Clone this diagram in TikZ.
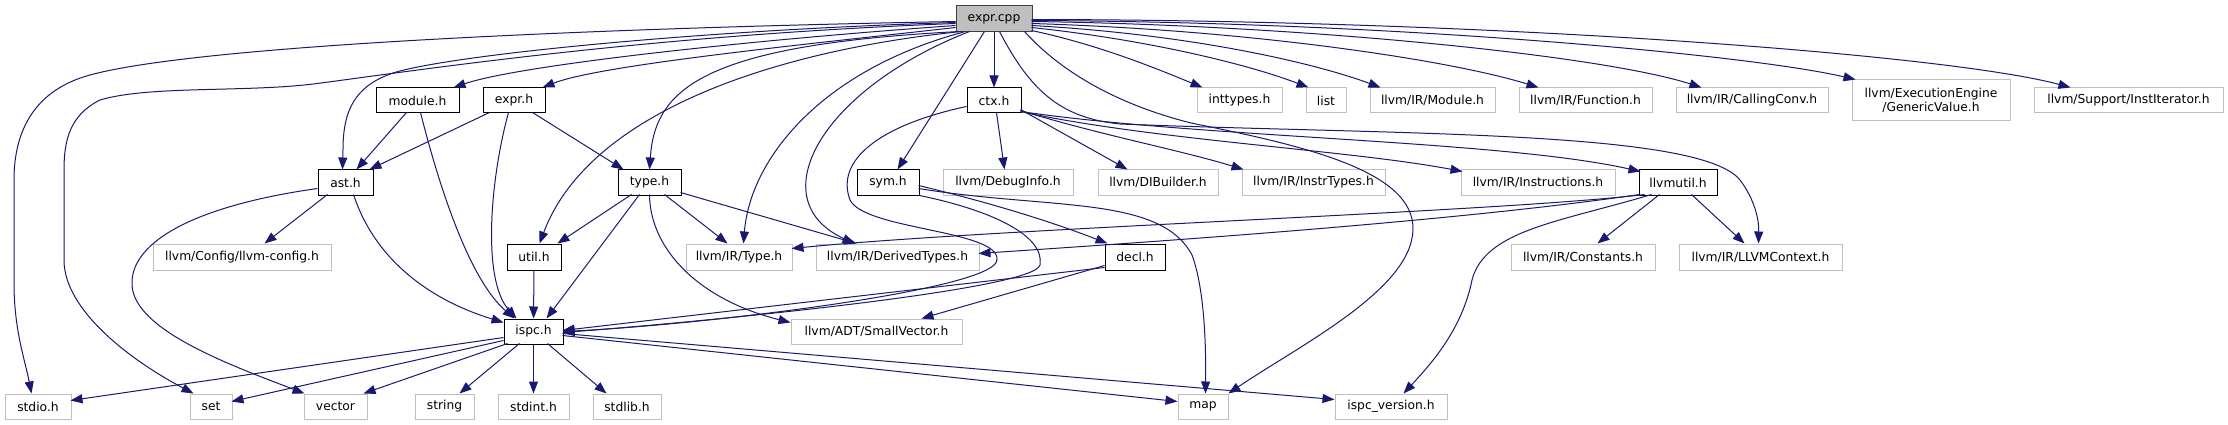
\documentclass[tikz,border=0pt]{standalone}
\usepackage{fontspec}
\setmainfont{DejaVu Sans}
\usetikzlibrary{arrows.meta}
\definecolor{edgeblue}{HTML}{191970}
\definecolor{extgray}{HTML}{BFBFBF}
\definecolor{rootborder}{HTML}{404040}
\tikzset{
  base/.style={rectangle, inner sep=0pt, align=center, text=black,
    font=\fontsize{12.3}{14}\selectfont, line width=1pt},
  docbox/.style={base, draw=black, fill=white},
  extbox/.style={base, draw=extgray, fill=white},
  rootbox/.style={base, draw=rootborder, fill=extgray},
  sz/.style 2 args={minimum width=#1pt, minimum height=#2pt},
  edge/.style={draw=edgeblue, line width=1pt, -{Triangle[length=12pt,width=9pt]}}
}
\begin{document}
\begin{tikzpicture}[x=1pt,y=-1pt]
\useasboundingbox[fill=white] (0,0) rectangle (2228,425);
% rank 0
\node[rootbox, sz={76}{26}] (ecpp) at (994,19) {expr.cpp};
% rank 1
\node[docbox, sz={83}{25}] (module) at (417.5,100.5) {module.h};
\node[docbox, sz={62}{25}] (exprh) at (514,100.5) {expr.h};
\node[docbox, sz={54}{25}] (ctx) at (994,100.5) {ctx.h};
\node[extbox, sz={85}{25}] (inttypes) at (1239.5,100.5) {inttypes.h};
\node[extbox, sz={40}{25}] (list) at (1326,100.5) {list};
\node[extbox, sz={125}{25}] (irmodule) at (1432.5,100.5) {llvm/IR/Module.h};
\node[extbox, sz={133}{25}] (irfunction) at (1585.5,100.5) {llvm/IR/Function.h};
\node[extbox, sz={152}{25}] (callconv) at (1752,100.5) {llvm/IR/CallingConv.h};
\node[extbox, sz={158}{41}] (genval) at (1931,100.5) {llvm/ExecutionEngine\\/GenericValue.h};
\node[extbox, sz={189}{25}] (instit) at (2128.5,100.5) {llvm/Support/InstIterator.h};
% rank 2
\node[docbox, sz={55}{25}] (ast) at (345.5,182.5) {ast.h};
\node[docbox, sz={63}{25}] (type) at (649.5,182.5) {type.h};
\node[docbox, sz={62}{25}] (sym) at (888,182.5) {sym.h};
\node[extbox, sz={130}{25}] (debuginfo) at (1008,182.5) {llvm/DebugInfo.h};
\node[extbox, sz={120}{25}] (dibuilder) at (1158,182.5) {llvm/DIBuilder.h};
\node[extbox, sz={143}{25}] (instrtypes) at (1313.5,182.5) {llvm/IR/InstrTypes.h};
\node[extbox, sz={154}{25}] (instructions) at (1538,182.5) {llvm/IR/Instructions.h};
\node[docbox, sz={78}{25}] (llvmutil) at (1678,182.5) {llvmutil.h};
% rank 3
\node[extbox, sz={178}{26}] (llvmconfig) at (242,257) {llvm/Config/llvm-config.h};
\node[docbox, sz={54}{26}] (util) at (534,257) {util.h};
\node[extbox, sz={106}{26}] (irtype) at (739,257) {llvm/IR/Type.h};
\node[extbox, sz={163}{26}] (derived) at (897.5,257) {llvm/IR/DerivedTypes.h};
\node[docbox, sz={60}{26}] (decl) at (1135,257) {decl.h};
\node[extbox, sz={144}{26}] (constants) at (1583,257) {llvm/IR/Constants.h};
\node[extbox, sz={163}{26}] (llvmctx) at (1760.5,257) {llvm/IR/LLVMContext.h};
% rank 4
\node[docbox, sz={59}{25}] (ispc) at (533.5,331.5) {ispc.h};
\node[extbox, sz={171}{25}] (smallvec) at (876.5,331.5) {llvm/ADT/SmallVector.h};
% rank 5
\node[extbox, sz={66}{25}] (stdio) at (38,406.5) {stdio.h};
\node[extbox, sz={42}{25}] (set) at (211,406.5) {set};
\node[extbox, sz={63}{25}] (vector) at (335.5,406.5) {vector};
\node[extbox, sz={59}{25}] (string) at (444.5,406.5) {string};
\node[extbox, sz={71}{25}] (stdint) at (533.5,406.5) {stdint.h};
\node[extbox, sz={68}{25}] (stdlib) at (627,406.5) {stdlib.h};
\node[extbox, sz={50}{25}] (map) at (1203,406.5) {map};
\node[extbox, sz={112}{25}] (ispcver) at (1391,406.5) {ispc\_version.h};

% ---- edges from expr.cpp (left side)
\draw[edge] ([shift={(0,16)}]ecpp.north west) .. controls (600,28) and (200,45) .. (90,75) .. controls (35,90) and (14,130) .. (14,180) -- (14,283) .. controls (14,330) and (25,360) .. ([shift={(27,0)}]stdio.north west);
\draw[edge] ([shift={(0,18)}]ecpp.north west) .. controls (650,35) and (420,70) .. (321,83) .. controls (250,93) and (150,85) .. (100,100) .. controls (70,115) and (64,140) .. (64,170) -- (64,260) .. controls (64,310) and (130,360) .. ([shift={(4,0)}]set.north west);
\draw[edge] ([shift={(0,17)}]ecpp.north west) .. controls (700,30) and (450,55) .. (393,73) .. controls (355,86) and (343,110) .. (343,150) -- ([shift={(25,0)}]ast.north west);
\draw[edge] ([shift={(0,20)}]ecpp.north west) .. controls (750,40) and (520,65) .. ([shift={(78,0)}]module.north west);
\draw[edge] ([shift={(0,22)}]ecpp.north west) .. controls (800,45) and (600,65) .. ([shift={(60,0)}]exprh.north west);
\draw[edge] ([shift={(4,26)}]ecpp.north west) .. controls (700,45) and (655,90) .. ([shift={(32,0)}]type.north west);
\draw[edge] ([shift={(6,26)}]ecpp.north west) .. controls (780,50) and (590,110) .. ([shift={(33,0)}]util.north west);
\draw[edge] ([shift={(10,26)}]ecpp.north west) .. controls (820,70) and (750,160) .. ([shift={(58,0)}]irtype.north west);
\draw[edge] ([shift={(14,26)}]ecpp.north west) .. controls (820,90) and (760,200) .. ([shift={(39,0)}]derived.north west);
\draw[edge] ([shift={(29,26)}]ecpp.north west) -- ([shift={(41,0)}]sym.north west);
\draw[edge] (ecpp) -- (ctx);
% ---- edges from expr.cpp (right side)
\draw[edge] ([shift={(76,25)}]ecpp.north west) .. controls (1100,45) and (1160,70) .. ([shift={(6,0)}]inttypes.north west);
\draw[edge] ([shift={(76,22)}]ecpp.north west) .. controls (1150,40) and (1250,65) .. ([shift={(3,0)}]list.north west);
\draw[edge] ([shift={(76,20)}]ecpp.north west) .. controls (1200,35) and (1320,65) .. ([shift={(11,0)}]irmodule.north west);
\draw[edge] ([shift={(76,18)}]ecpp.north west) .. controls (1250,30) and (1450,60) .. ([shift={(20,0)}]irfunction.north west);
\draw[edge] ([shift={(76,16)}]ecpp.north west) .. controls (1300,25) and (1600,55) .. ([shift={(26,0)}]callconv.north west);
\draw[edge] ([shift={(76,15)}]ecpp.north west) .. controls (1400,22) and (1750,55) .. ([shift={(4,0)}]genval.north west);
\draw[edge] ([shift={(76,14)}]ecpp.north west) .. controls (1500,20) and (1950,55) .. ([shift={(37,0)}]instit.north west);
\draw[edge] ([shift={(69,26)}]ecpp.north west) .. controls (1050,60) and (1100,100) .. (1191,123) .. controls (1300,145) and (1415,170) .. (1413,230) .. controls (1411,290) and (1300,345) .. (map.north east);
\draw[edge] ([shift={(44,26)}]ecpp.north west) .. controls (1030,90) and (1060,118) .. (1120,124) .. controls (1400,135) and (1700,130) .. (1740,180) .. controls (1755,200) and (1759,220) .. ([shift={(80,0)}]llvmctx.north west);

% ---- ctx.h
\draw[edge] ([shift={(30,25)}]ctx.north west) -- ([shift={(62,0)}]debuginfo.north west);
\draw[edge] ([shift={(54,22)}]ctx.north west) -- ([shift={(30,0)}]dibuilder.north west);
\draw[edge] ([shift={(54,23)}]ctx.north west) .. controls (1100,135) and (1180,150) .. ([shift={(2,0)}]instrtypes.north west);
\draw[edge] ([shift={(54,24)}]ctx.north west) .. controls (1150,140) and (1350,150) .. ([shift={(2,2)}]instructions.north west);
\draw[edge] ([shift={(54,24)}]ctx.north west) .. controls (1200,138) and (1500,140) .. ([shift={(2,2)}]llvmutil.north west);
\draw[edge] ([shift={(0,19)}]ctx.north west) .. controls (880,125) and (835,160) .. (850,200) .. controls (865,230) and (1000,230) .. (997,260) .. controls (995,290) and (700,325) .. ([shift={(59,13)}]ispc.north west);

% ---- sym.h
\draw[edge] ([shift={(62,16)}]sym.north west) .. controls (1000,205) and (1060,225) .. ([shift={(3,0)}]decl.north west);
\draw[edge] ([shift={(62,19)}]sym.north west) .. controls (1050,210) and (1160,195) .. (1192,255) .. controls (1205,290) and (1206,350) .. ([shift={(28,0)}]map.north west);
\draw[edge] (sym.south east) .. controls (990,210) and (1045,235) .. (1040,265) .. controls (1035,290) and (700,322) .. ([shift={(59,14)}]ispc.north west);

% ---- decl.h
\draw[edge] ([shift={(0,24)}]decl.north west) -- ([shift={(59,12)}]ispc.north west);
\draw[edge] ([shift={(0,22)}]decl.north west) -- ([shift={(131,0)}]smallvec.north west);

% ---- llvmutil.h
\draw[edge] ([shift={(6,25)}]llvmutil.north west) .. controls (1500,212) and (1000,228) .. ([shift={(106,5)}]irtype.north west);
\draw[edge] ([shift={(1,25)}]llvmutil.north west) .. controls (1450,222) and (1150,242) .. ([shift={(163,10)}]derived.north west);
\draw[edge] ([shift={(21,25)}]llvmutil.north west) -- ([shift={(87,0)}]constants.north west);
\draw[edge] ([shift={(53,25)}]llvmutil.north west) -- ([shift={(66,0)}]llvmctx.north west);
\draw[edge] ([shift={(13,25)}]llvmutil.north west) .. controls (1560,222) and (1485,230) .. (1472,280) .. controls (1462,330) and (1430,365) .. ([shift={(69,0)}]ispcver.north west);

% ---- ast.h
\draw[edge] ([shift={(10,25)}]ast.north west) -- ([shift={(112,0)}]llvmconfig.north west);
\draw[edge] ([shift={(36,25)}]ast.north west) .. controls (375,260) and (430,300) .. ([shift={(0,4)}]ispc.north west);
\draw[edge] ([shift={(0,19)}]ast.north west) .. controls (200,205) and (130,240) .. (132,285) .. controls (134,330) and (230,365) .. ([shift={(1,0)}]vector.north west);

% ---- module.h / expr.h
\draw[edge] ([shift={(31,25)}]module.north west) -- ([shift={(39,0)}]ast.north west);
\draw[edge] ([shift={(45,25)}]module.north west) .. controls (440,190) and (470,280) .. ([shift={(11,0)}]ispc.north west);
\draw[edge] ([shift={(7,25)}]exprh.north west) -- ([shift={(52,0)}]ast.north west);
\draw[edge] ([shift={(50,25)}]exprh.north west) -- ([shift={(6,0)}]type.north west);
\draw[edge] ([shift={(26,25)}]exprh.north west) .. controls (490,180) and (482,280) .. ([shift={(13,0)}]ispc.north west);

% ---- type.h
\draw[edge] ([shift={(14,25)}]type.north west) -- ([shift={(51,0)}]util.north west);
\draw[edge] ([shift={(22,25)}]type.north west) -- ([shift={(43,0)}]ispc.north west);
\draw[edge] ([shift={(32,25)}]type.north west) .. controls (650,250) and (700,300) .. ([shift={(0,4)}]smallvec.north west);
\draw[edge] ([shift={(47,25)}]type.north west) -- ([shift={(42,0)}]irtype.north west);
\draw[edge] ([shift={(63,23)}]type.north west) -- ([shift={(41,0)}]derived.north west);

% ---- util.h
\draw[edge] (util) -- (ispc);

% ---- ispc.h
\draw[edge] ([shift={(0,19)}]ispc.north west) -- ([shift={(66,7)}]stdio.north west);
\draw[edge] ([shift={(0,22)}]ispc.north west) -- ([shift={(42,8)}]set.north west);
\draw[edge] ([shift={(4,25)}]ispc.north west) -- ([shift={(60,0)}]vector.north west);
\draw[edge] ([shift={(16,25)}]ispc.north west) -- ([shift={(45,0)}]string.north west);
\draw[edge] (ispc) -- (stdint);
\draw[edge] ([shift={(44,25)}]ispc.north west) -- ([shift={(14,0)}]stdlib.north west);
\draw[edge] ([shift={(59,17)}]ispc.north west) -- ([shift={(0,8)}]map.north west);
\draw[edge] ([shift={(59,15)}]ispc.north west) -- ([shift={(0,6)}]ispcver.north west);
\end{tikzpicture}
\end{document}
